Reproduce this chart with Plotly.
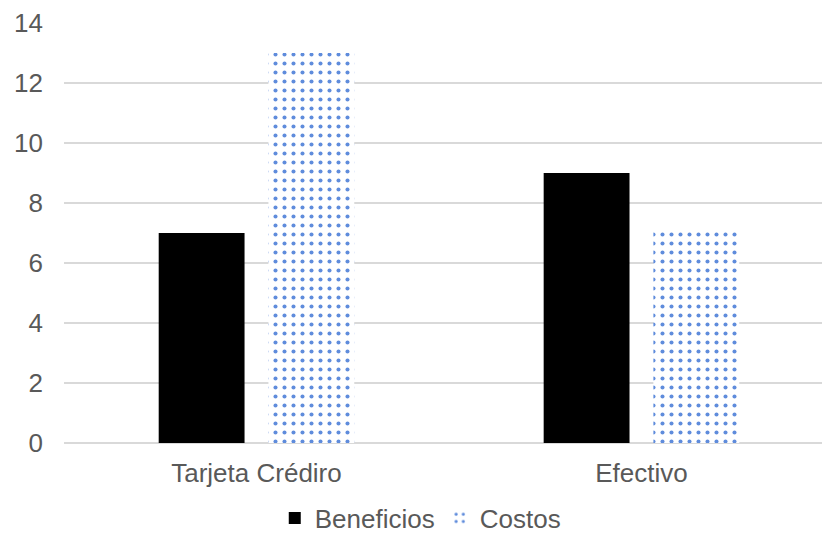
import plotly.graph_objects as go

categories = ["Tarjeta Crédiro", "Efectivo"]
beneficios = [7, 9]
costos = [13, 7.1]
y_ticks = [0, 2, 4, 6, 8, 10, 12, 14]

TEXT = "#595959"
GRID = "#d9d9d9"
FONT = "Arial, Liberation Sans, sans-serif"

fig = go.Figure()
fig.add_trace(go.Bar(
    name="Beneficios", x=categories, y=beneficios,
    marker=dict(color="#000000", line=dict(width=0)),
    width=0.223, offset=-0.254,
))
fig.add_trace(go.Bar(
    name="Costos", x=categories, y=costos,
    marker=dict(
        color="#ffffff",
        line=dict(width=0),
        pattern=dict(shape=".", fgcolor="#5f8cdc", bgcolor="#ffffff",
                     size=9, solidity=0.16, fillmode="replace"),
    ),
    width=0.223, offset=0.031,
))

fig.update_layout(
    width=822, height=534,
    margin=dict(l=64, r=0, t=23, b=91, autoexpand=False),
    paper_bgcolor="white", plot_bgcolor="white",
    font=dict(family=FONT, size=26, color=TEXT),
    barmode="group",
    showlegend=True,
    legend=dict(orientation="h", x=0.47, xanchor="center",
                yref="container", y=0.03, yanchor="middle",
                font=dict(size=26, color=TEXT), itemwidth=30, traceorder="normal"),
    xaxis=dict(range=[-0.5, 1.469], showgrid=False, showline=False, ticks="",
               tickfont=dict(size=26, color=TEXT), ticklabelstandoff=12),
    yaxis=dict(range=[0, 14], tickvals=y_ticks, showgrid=True, gridcolor=GRID,
               gridwidth=1.5, zeroline=True, zerolinecolor=GRID, zerolinewidth=1.5,
               showline=False, ticks="", tickfont=dict(size=26, color=TEXT),
               ticklabelstandoff=20),
)

fig.write_html("out.html")
